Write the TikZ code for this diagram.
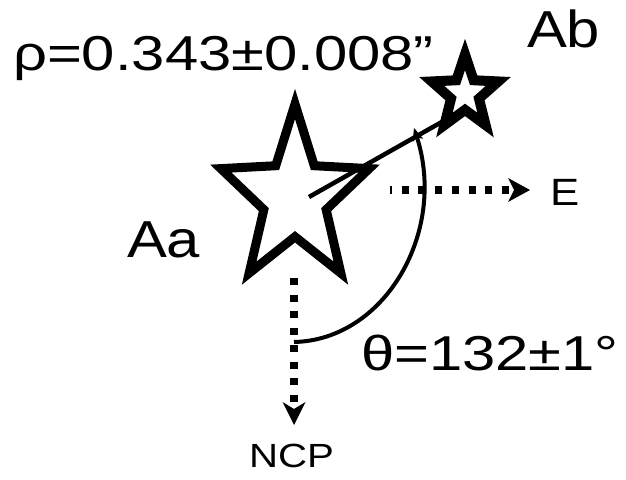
\documentclass[tikz,border=0pt]{standalone}
\usepackage{fontspec}
\usepackage{graphicx}
\setmainfont{Liberation Sans}
\usetikzlibrary{arrows.meta}

% five-pointed star path: centre x, centre y, x radius, y radius, inner ratio
\newcommand\starat[5]{%
  ({#1},{#2-#4}) \foreach \k in {1,...,9}{
    -- ({#1+(mod(\k,2)==0?1:#5)*#3*cos(90+36*\k)},{#2-(mod(\k,2)==0?1:#5)*#4*sin(90+36*\k)})
  } -- cycle}

\tikzset{
  lbl/.style={anchor=base west, inner sep=0pt, outer sep=0pt},
  starline/.style={line join=miter, miter limit=12},
  dotline/.style={line width=7.5pt, dash pattern=on 7pt off 9.7pt},
  bigtip/.style={-{Stealth[length=23pt,width=23pt,inset=7pt,line width=0pt]}},
  smalltip/.style={-{Stealth[length=13pt,width=11pt,inset=3pt,line width=0pt]}},
}

\begin{document}
\begin{tikzpicture}[x=1pt,y=-1pt]
\useasboundingbox (0,0) rectangle (626,479);

% stars
\coordinate (Aa) at (295,197.5);
\coordinate (Ab) at (465,93.5);
\draw[starline, line width=9pt] \starat{295}{197.5}{78}{93.5}{0.42};
\draw[starline, line width=10pt, fill=white] \starat{465}{93.5}{35}{39}{0.42};

% separation line between the components
\coordinate (sep0) at (309,197);
\coordinate (sep1) at (463,110);
\draw[line width=4.5pt] (sep0) -- (sep1);

% direction arrows
\coordinate (ncp0) at (294,278);
\coordinate (ncpTip) at (294,425);
\draw[dotline, bigtip] (ncp0) -- (ncpTip);

\coordinate (east0) at (390,190);
\coordinate (eastTip) at (530,190);
\draw[dotline, dash phase=5pt, -{Stealth[length=22pt,width=24pt,inset=6pt,line width=0pt]}] (east0) -- (eastTip);

% position angle arc
\coordinate (pa0) at (294,342);
\coordinate (pa1) at (414,128);
\draw[line width=4pt, smalltip] (pa0) .. controls (385,340) and (447,232) .. (pa1);

% labels
\node[lbl] (rho) at (13,70) {\fontsize{49}{50}\selectfont\scalebox{1.22}[1]{ρ=0.343±0.008”}};
\node[lbl] (labAb) at (527,47) {\fontsize{52}{53}\selectfont\scalebox{1.15}[1]{Ab}};
\node[lbl] (labAa) at (127,257) {\fontsize{52}{53}\selectfont\scalebox{1.15}[1]{Aa}};
\node[lbl] (labE) at (550,205) {\fontsize{38}{39}\selectfont\scalebox{1.15}[1]{E}};
\node[lbl] (theta) at (361,370) {\fontsize{49}{50}\selectfont\scalebox{1.22}[1]{θ=132±1°}};
\node[lbl] (ncp) at (249,467) {\fontsize{33.5}{34}\selectfont\scalebox{1.2}[1]{NCP}};
\end{tikzpicture}
\end{document}
